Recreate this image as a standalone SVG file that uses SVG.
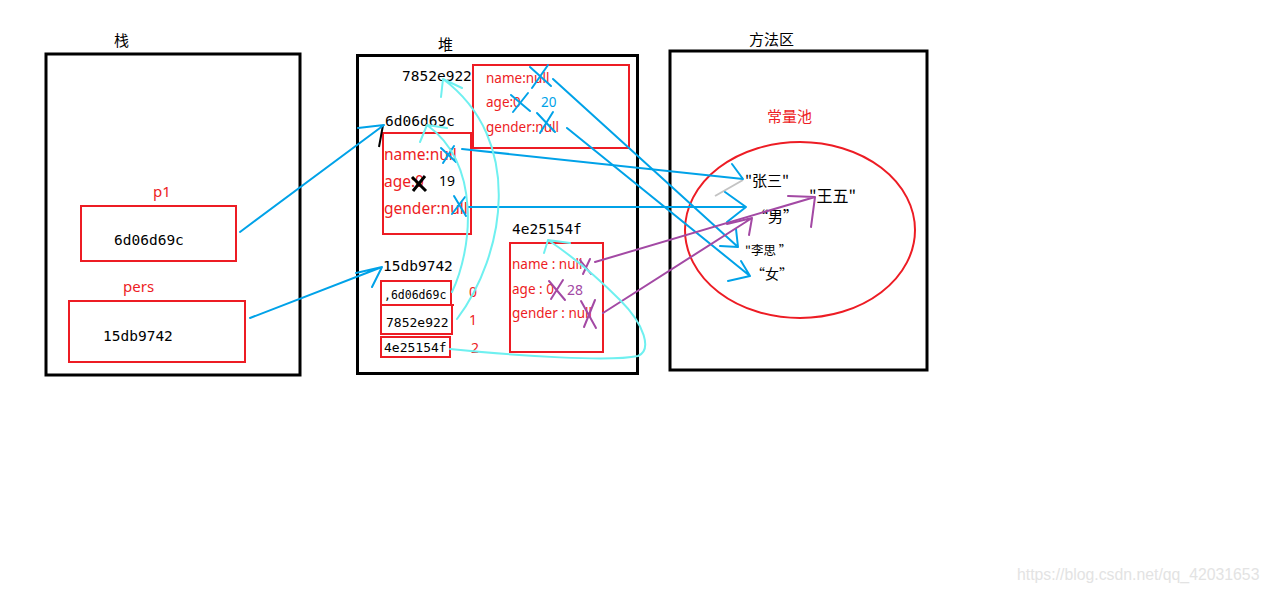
<svg xmlns="http://www.w3.org/2000/svg" width="1269" height="592" viewBox="0 0 1269 592">
<style>
.frame{fill:none;stroke:#000;stroke-width:3}
.rbox{fill:none;stroke:#ed1c24;stroke-width:2}
.cjk{font-family:"Noto Sans CJK SC","Noto Sans",sans-serif;fill:#000}
.mono{font-family:"DejaVu Sans Mono","Liberation Mono",monospace;font-size:14.5px;fill:#000}
.red{font-family:"Noto Sans","Liberation Sans",sans-serif;fill:#ed1c24}
.blue{fill:none;stroke:#00a2e8;stroke-width:2;stroke-linecap:round;stroke-linejoin:round}
.purple{fill:none;stroke:#a349a4;stroke-width:2;stroke-linecap:round;stroke-linejoin:round}
.cyan{fill:none;stroke:#6ff0f0;stroke-width:2;stroke-linecap:round;stroke-linejoin:round}
</style>
<rect width="1269" height="592" fill="#fff"/>

<g id="stack">
<rect class="frame" x="46" y="54" width="254" height="321"/>
<text class="cjk" x="114" y="46" font-size="15">栈</text>
</g>
<g id="p1">
<text class="red" x="153" y="197" font-size="15">p1</text>
<rect class="rbox" x="81" y="206" width="155" height="55"/>
<text class="mono" x="114" y="245">6d06d69c</text>
</g>
<g id="pers">
<text class="red" x="123" y="292" font-size="15">pers</text>
<rect class="rbox" x="69" y="301" width="176" height="61"/>
<text class="mono" x="103" y="341">15db9742</text>
</g>

<g id="heap">
<rect class="frame" x="357.5" y="55.5" width="280" height="318"/>
<text class="cjk" x="438" y="50" font-size="15">堆</text>
</g>
<g id="obj-7852e922">
<text class="mono" x="402" y="81">7852e922</text>
<rect class="rbox" x="473" y="65" width="156" height="83"/>
<text class="red" x="486" y="83" font-size="13.5">name:null</text>
<text class="red" x="486" y="107" font-size="13.5">age:0</text>
<text x="541" y="107" font-size="13.5" font-family="Noto Sans,sans-serif" fill="#00a2e8">20</text>
<text class="red" x="486" y="132" font-size="13.5">gender:null</text>
</g>
<g id="obj-6d06d69c">
<text class="mono" x="385" y="126" font-size="15">6d06d69c</text>
<rect class="rbox" x="383" y="133" width="88" height="101"/>
<text class="red" x="384" y="160" font-size="15.5">name:null</text>
<text class="red" x="384" y="187" font-size="15.5">age:0</text>
<text x="439" y="186" font-size="14" font-family="Noto Sans,sans-serif" fill="#000">19</text>
<text class="red" x="384" y="214" font-size="15.5">gender:null</text>
</g>
<g id="obj-4e25154f">
<text class="mono" x="512" y="234">4e25154f</text>
<rect class="rbox" x="510" y="243" width="93" height="109"/>
<text class="red" x="512" y="269" font-size="13.5">name : null</text>
<text class="red" x="512" y="294" font-size="13.5">age : 0</text>
<text x="567" y="295" font-size="14" font-family="Noto Sans,sans-serif" fill="#a349a4">28</text>
<text class="red" x="512" y="318" font-size="13.5">gender : null</text>
</g>
<g id="array-15db9742">
<text class="mono" x="383" y="271">15db9742</text>
<rect class="rbox" x="381" y="281" width="70" height="24"/>
<line x1="420" y1="305" x2="454" y2="305" stroke="#ed1c24" stroke-width="2"/>
<rect class="rbox" x="381" y="305" width="71" height="29"/>
<rect class="rbox" x="381" y="337" width="69" height="20"/>
<text x="384" y="299" font-size="11.5" font-family="DejaVu Sans Mono,monospace" fill="#000">,6d06d69c</text>
<text class="mono" x="386" y="327" font-size="13" style="font-size:13px">7852e922</text>
<text class="mono" x="384" y="352" style="font-size:13px">4e25154f</text>
<text class="red" x="469" y="297" font-size="14">0</text>
<text class="red" x="469" y="325" font-size="14">1</text>
<text class="red" x="471" y="353" font-size="14">2</text>
</g>

<g id="method-area">
<rect class="frame" x="670" y="51" width="257" height="319"/>
<text class="cjk" x="749" y="45" font-size="15">方法区</text>
</g>
<g id="constant-pool">
<text class="cjk" x="767" y="122" font-size="15" style="fill:#ed1c24">常量池</text>
<ellipse cx="800" cy="230" rx="115" ry="88" fill="none" stroke="#ed1c24" stroke-width="2"/>
<text class="cjk" x="745" y="186" font-size="15">"张三"</text>
<text class="cjk" x="809" y="202" font-size="16">"王五"</text>
<text class="cjk" x="753" y="222" font-size="15">“男”</text>
<text class="cjk" x="745" y="255" font-size="12.5">"李思 ”</text>
<text class="cjk" x="751" y="279" font-size="14">“女”</text>
</g>

<g id="marks">
<path class="blue" d="M530,67 L551,86 M548,65 L532,88"/>
<path class="blue" d="M511,95 L530,111 M528,93 L513,112"/>
<path class="blue" d="M537,113 L555,132 M553,112 L540,133"/>
<path class="blue" d="M441,148 L456,162 M454,146 L443,163"/>
<path d="M412,177 L426,191 M425,176 L413,191" stroke="#000" stroke-width="3" fill="none"/>
<path class="blue" d="M454,196 L466,216 M465,197 L452,214"/>
<path class="purple" d="M580,260 L591,274 M590,259 L583,274"/>
<path class="purple" d="M549,281 L565,300 M563,280 L551,299"/>
<path class="purple" d="M581,301 L596,328 M595,300 L584,327"/>
<line x1="379" y1="147" x2="383" y2="125" stroke="#000" stroke-width="2"/>
<line x1="715" y1="196" x2="743" y2="180" stroke="#c3c3c3" stroke-width="2"/>
</g>

<g id="connectors">
<path class="blue" d="M240,232 L384,125 M358,128 L384,125"/>
<path class="blue" d="M250,318 L382,267 M356,273 L382,267 L372,287"/>
<path class="blue" d="M462,149 L743,179 L732,164"/>
<path class="blue" d="M468,207 L746,207 M725,192 L746,207 L727,222"/>
<path class="blue" d="M553,79 L738,247 M720,246 L738,247 L736,229"/>
<path class="blue" d="M567,128 L750,276 M728,281 L750,276 L741,261"/>
<path class="purple" d="M595,262 L815,197 M788,196 L815,197 L811,227"/>
<path class="purple" d="M603,313 L752,218 M749,235 L752,218 L727,224"/>
<path class="cyan" d="M452,292 C472,250 482,165 427,125 M447,128 L427,125 L420,142"/>
<path class="cyan" d="M457,319 C505,255 525,140 443,79 M462,88 L443,79 L441,97"/>
<path class="cyan" d="M450,349 C520,356 610,362 638,356 C652,350 645,325 620,300 C600,280 575,258 548,240 M570,243 L548,240 L544,253"/>
</g>

<text x="1017" y="580" font-size="15.8" font-family="Liberation Sans,Arial,sans-serif" fill="#e3e3e3">https://blog.csdn.net/qq_42031653</text>
</svg>
